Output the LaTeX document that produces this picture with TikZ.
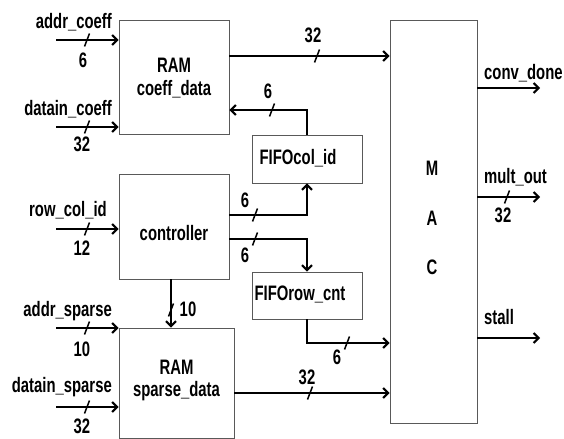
\documentclass[tikz,border=0pt]{standalone}
\usepackage{fontspec}
\setmainfont{Liberation Sans}[FakeStretch=0.71]
\usetikzlibrary{arrows.meta,calc}
\newcommand\busslash[1]{\draw[slashst] ($(#1)+(-2.5,6.5)$) -- ($(#1)+(2.5,-6.5)$);}
\begin{document}
\begin{tikzpicture}[x=1bp,y=-1bp,
  txt/.style={font=\bfseries\fontsize{21}{23}\selectfont, inner sep=0pt, align=center},
  box/.style={draw=black!65, line width=0.9bp, inner sep=0pt},
  arr/.style={line width=2bp, -{Straight Barb[length=5bp,width=10bp]}},
  slashst/.style={line width=1.5bp},
  ]
\useasboundingbox (0,0) rectangle (564,439);
% boxes
\node[box, minimum width=110bp, minimum height=114bp] (ram1) at (174,77) {};
\node[txt] (ram1t) at (174,78.5) {RAM\\coeff\_data};
\node[box, minimum width=110bp, minimum height=105bp] (ctrl) at (174,226.5) {};
\node[txt] (ctrlt) at (174,233) {controller};
\node[box, minimum width=115bp, minimum height=110bp] (ram2) at (176.5,383) {};
\node[txt] (ram2t) at (176.5,380.5) {RAM\\sparse\_data};
\node[box, minimum width=110bp, minimum height=48bp] (fcol) at (307,159) {};
\node[txt] (fcolt) at (298,158) {FIFOcol\_id};
\node[box, minimum width=110bp, minimum height=47bp] (frow) at (307,295.5) {};
\node[txt] (frowt) at (300,294) {FIFOrow\_cnt};
\node[box, minimum width=87bp, minimum height=403bp] (mac) at (433.5,221.5) {};
\node[txt] (m1) at (432,168) {M};
\node[txt] (m2) at (432,218) {A};
\node[txt] (m3) at (432,267) {C};
% input free ends
\coordinate (i1) at (56,40);
\coordinate (i2) at (56,127);
\coordinate (i3) at (56,229);
\coordinate (i4) at (56,328);
\coordinate (i5) at (56,407);
\coordinate (o1) at (540,88);
\coordinate (o2) at (540,197);
\coordinate (o3) at (540,338);
% inputs
\draw[arr] (i1) -- (ram1.west |- i1);
\draw[arr] (i2) -- (ram1.west |- i2);
\draw[arr] (i3) -- (ctrl.west |- i3);
\draw[arr] (i4) -- (ram2.west |- i4);
\draw[arr] (i5) -- (ram2.west |- i5);
% internal
\draw[arr] ($(ram1.east)+(0,-21)$) -- ($(mac.west |- ram1.east)+(0,-21)$);
\draw[arr] (fcol.north) |- ($(ram1.east)+(0,33)$);
\draw[arr] ($(ctrl.east)+(0,-11.5)$) -| (fcol.south);
\draw[arr] ($(ctrl.east)+(0,12.5)$) -| (frow.north);
\draw[arr] (frow.south) |- ($(mac.west)+(0,121.5)$);
\draw[arr] ($(ram2.east)+(0,10)$) -- ($(mac.west |- ram2.east)+(0,10)$);
\draw[arr] ($(ctrl.south)+(-3,0)$) -- ($(ctrl.south |- ram2.north)+(-3,0)$);
% outputs
\draw[arr] (mac.east |- o1) -- (o1);
\draw[arr] (mac.east |- o2) -- (o2);
\draw[arr] (mac.east |- o3) -- (o3);
% bus slashes
\busslash{87,40}
\busslash{87,127}
\busslash{87,229}
\busslash{87,328}
\busslash{87,407}
\busslash{272,110}
\busslash{317,56}
\busslash{255,215}
\busslash{255,239}
\busslash{347,343}
\busslash{310,393}
\busslash{507,197}
\busslash{171,310}
% labels
\node[txt, anchor=base east] (l1) at (112,28.5) {addr\_coeff};
\node[txt, anchor=base] (n1) at (83,68) {6};
\node[txt, anchor=base east] (l2) at (112,115.5) {datain\_coeff};
\node[txt, anchor=base] (n2) at (82,152) {32};
\node[txt, anchor=base east] (l3) at (107,216.5) {row\_col\_id};
\node[txt, anchor=base] (n3) at (82,256) {12};
\node[txt, anchor=base east] (l4) at (112,316.5) {addr\_sparse};
\node[txt, anchor=base] (n4) at (82,356) {10};
\node[txt, anchor=base east] (l5) at (112,392.5) {datain\_sparse};
\node[txt, anchor=base] (n5) at (82,433) {32};
\node[txt, anchor=base] (n6) at (268,99) {6};
\node[txt, anchor=base] (n7) at (313,43) {32};
\node[txt, anchor=base] (n8) at (245,208) {6};
\node[txt, anchor=base] (n9) at (245,263) {6};
\node[txt, anchor=base] (n10) at (337,364) {6};
\node[txt, anchor=base] (n11) at (307,384) {32};
\node[txt, anchor=base] (n12) at (188,316) {10};
\node[txt, anchor=base west] (l6) at (484,79.5) {conv\_done};
\node[txt, anchor=base west] (l7) at (484,183.5) {mult\_out};
\node[txt, anchor=base] (n13) at (503,223) {32};
\node[txt, anchor=base west] (l8) at (484,324.5) {stall};
\end{tikzpicture}
\end{document}
